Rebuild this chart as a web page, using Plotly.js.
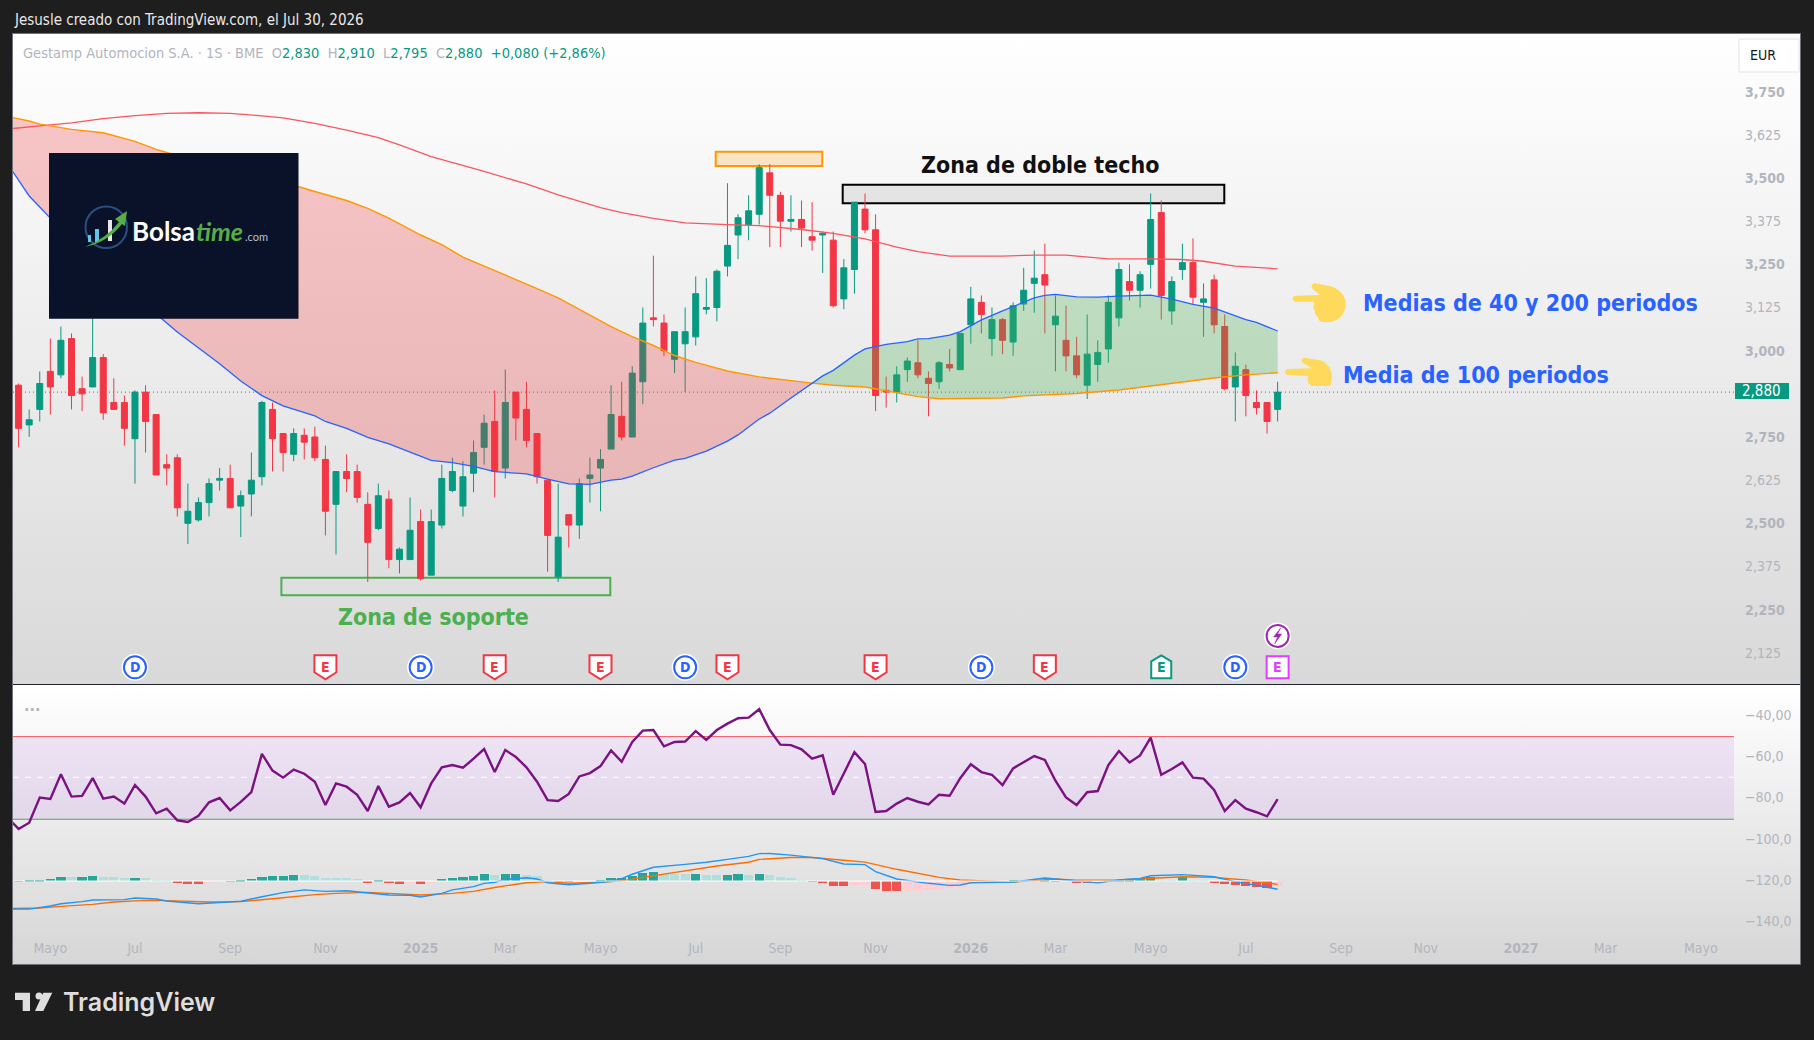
<!DOCTYPE html>
<html lang="es">
<head>
<meta charset="utf-8">
<title>Gestamp Automocion S.A.</title>
<script src="https://cdn.plot.ly/plotly-3.0.1.min.js"></script>
<style>
html,body{margin:0;padding:0;background:#1e1e1e;width:1814px;height:1040px;overflow:hidden}
#frame{position:absolute;left:13px;top:34px;width:1787px;height:930px;outline:1px solid #6f7278}
#upper{position:absolute;left:0;top:0;width:100%;height:650px;background:linear-gradient(#ffffff,#d9d9d9)}
#rule{position:absolute;left:0;top:650px;width:100%;height:1px;background:#1f2430}
#lower{position:absolute;left:0;top:651px;width:100%;height:279px;background:linear-gradient(#ffffff,#d6d6d6)}
#chart{position:absolute;left:0;top:0;width:1814px;height:1040px}
</style>
</head>
<body>
<div id="frame"><div id="upper"></div><div id="rule"></div><div id="lower"></div></div>
<div id="chart"></div>
<script>
// ---- weekly candles (EUR), oldest first, week of 2024-04-15 onward ----
const opens  = [2.90,2.785,2.83,2.94,2.93,3.035,2.89,2.895,2.98,2.85,2.85,2.745,2.88,2.815,2.67,2.69,2.50,2.51,2.56,2.625,2.63,2.55,2.585,2.635,2.83,2.76,2.70,2.755,2.75,2.685,2.555,2.65,2.65,2.555,2.485,2.57,2.395,2.395,2.505,2.35,2.495,2.595,2.55,2.645,2.72,2.795,2.66,2.88,2.83,2.76,2.625,2.345,2.525,2.495,2.63,2.66,2.715,2.81,2.75,2.91,3.095,3.08,2.975,3.02,3.04,3.12,3.125,3.245,3.335,3.365,3.395,3.515,3.45,3.375,3.38,3.33,3.335,3.32,3.15,3.235,3.41,3.35,2.885,2.88,2.945,2.965,2.92,2.91,2.96,2.945,3.075,3.14,3.035,3.09,3.025,3.135,3.195,3.22,3.075,3.03,2.985,2.90,2.96,3.005,3.095,3.20,3.175,3.25,3.40,3.115,3.235,3.255,3.14,3.205,3.07,2.895,2.945,2.85,2.85,2.83];
const highs  = [2.905,2.83,2.94,3.035,3.07,3.05,2.925,3.13,2.99,2.92,2.87,2.885,2.90,2.815,2.70,2.70,2.615,2.575,2.63,2.66,2.67,2.595,2.705,2.855,2.85,2.76,2.775,2.775,2.78,2.725,2.65,2.70,2.67,2.59,2.615,2.595,2.43,2.575,2.54,2.54,2.67,2.69,2.68,2.74,2.815,2.885,2.945,2.88,2.91,2.76,2.625,2.615,2.525,2.63,2.69,2.715,2.90,2.91,2.955,3.125,3.275,3.105,3.055,3.125,3.215,3.21,3.235,3.485,3.395,3.45,3.54,3.54,3.46,3.45,3.435,3.43,3.345,3.345,3.265,3.43,3.455,3.395,2.925,2.955,2.98,3.03,2.94,2.97,3.005,3.05,3.185,3.16,3.125,3.095,3.14,3.24,3.29,3.31,3.16,3.13,3.04,3.105,3.03,3.16,3.255,3.25,3.23,3.455,3.435,3.215,3.31,3.325,3.195,3.22,3.105,2.995,2.96,2.885,2.85,2.91];
const lows   = [2.72,2.75,2.795,2.815,2.92,2.83,2.825,2.895,2.80,2.83,2.725,2.615,2.705,2.64,2.61,2.52,2.44,2.505,2.52,2.595,2.545,2.46,2.52,2.61,2.65,2.65,2.68,2.685,2.68,2.465,2.41,2.59,2.56,2.33,2.48,2.37,2.355,2.395,2.335,2.35,2.485,2.59,2.52,2.59,2.67,2.575,2.63,2.74,2.72,2.615,2.36,2.33,2.43,2.455,2.56,2.535,2.715,2.74,2.75,2.845,3.07,2.985,2.935,2.88,3.015,3.105,3.085,3.215,3.265,3.32,3.365,3.30,3.30,3.345,3.30,3.29,3.225,3.125,3.12,3.165,3.34,2.825,2.835,2.85,2.91,2.92,2.81,2.89,2.94,2.945,3.02,3.05,2.985,2.99,2.985,3.115,3.11,3.05,2.94,2.94,2.92,2.86,2.91,2.965,3.07,3.145,3.125,3.18,3.09,3.075,3.205,3.135,3.04,3.05,2.885,2.795,2.81,2.815,2.76,2.795];
const closes = [2.775,2.80,2.905,2.895,3.03,2.87,2.875,2.98,2.82,2.83,2.775,2.88,2.795,2.64,2.66,2.545,2.535,2.56,2.615,2.63,2.545,2.58,2.625,2.85,2.745,2.705,2.76,2.735,2.69,2.535,2.65,2.63,2.575,2.445,2.58,2.395,2.425,2.48,2.34,2.505,2.63,2.65,2.635,2.705,2.79,2.65,2.85,2.805,2.74,2.635,2.465,2.46,2.495,2.615,2.64,2.685,2.815,2.75,2.935,3.08,3.09,3.00,3.055,3.055,3.165,3.125,3.23,3.305,3.385,3.405,3.53,3.45,3.375,3.38,3.355,3.32,3.34,3.13,3.24,3.43,3.35,2.87,2.88,2.93,2.97,2.93,2.905,2.965,2.95,3.05,3.15,3.105,3.09,3.03,3.13,3.175,3.21,3.19,3.10,2.985,2.93,2.99,2.995,3.14,3.235,3.175,3.22,3.38,3.16,3.20,3.255,3.155,3.15,3.075,2.89,2.955,2.87,2.835,2.795,2.88];

// ---- moving averages: week number (0 = first candle) and value ----
const ma40Weeks  = [-1,1,2,3,6,10,13,15,19,21,23,25,28,29,31,33,35,39,41,43,45,48,50,52,54,56,57,58,60,62,63,65,67,68,70,71,73,75,76,77,79,80,82,84,85,86,88,89,91,93,95,96,97,98,100,102,104,107,109,111,113,116,117,119];
const ma40Values = [3.539,3.448,3.416,3.384,3.297,3.190,3.106,3.054,2.962,2.912,2.870,2.840,2.811,2.795,2.775,2.749,2.730,2.682,2.676,2.665,2.650,2.643,2.628,2.614,2.613,2.625,2.628,2.637,2.661,2.683,2.688,2.709,2.738,2.756,2.802,2.819,2.863,2.906,2.927,2.943,2.987,3.005,3.018,3.026,3.034,3.035,3.045,3.055,3.089,3.115,3.141,3.153,3.160,3.163,3.156,3.155,3.158,3.161,3.149,3.134,3.123,3.090,3.082,3.057];
const ma100Weeks  = [-1,1,2,5,8,11,13,14,20,26,28,31,33,35,38,40,42,44,46,49,51,54,56,58,60,62,64,67,70,75,77,80,83,85,87,89,93,95,100,104,109,113,116,119];
const ma100Values = [3.678,3.665,3.656,3.641,3.631,3.606,3.583,3.574,3.523,3.479,3.461,3.435,3.412,3.384,3.335,3.307,3.271,3.245,3.221,3.180,3.153,3.103,3.070,3.041,3.015,2.986,2.966,2.941,2.924,2.906,2.900,2.895,2.879,2.867,2.861,2.861,2.863,2.869,2.876,2.886,2.905,2.921,2.930,2.936];
const ma200Weeks  = [-1,1,2,5,8,11,14,17,20,23,25,28,31,34,36,39,42,44,48,51,55,57,60,63,67,70,74,77,80,83,85,88,93,96,99,103,107,110,112,115,119];
const ma200Values = [3.642,3.647,3.651,3.660,3.672,3.681,3.687,3.689,3.687,3.680,3.674,3.658,3.639,3.617,3.596,3.562,3.537,3.519,3.483,3.451,3.414,3.400,3.383,3.370,3.365,3.362,3.351,3.340,3.324,3.300,3.287,3.274,3.274,3.277,3.277,3.266,3.266,3.264,3.259,3.245,3.237];

// ---- lower pane ----
const oscValues = [-90.0,-95.3,-92.3,-80.1,-80.8,-68.8,-79.6,-79.3,-70.6,-80.6,-79.6,-83.0,-74.0,-79.6,-87.7,-85.5,-91.1,-91.9,-88.9,-82.4,-80.3,-86.3,-82.2,-77.4,-58.9,-67.0,-70.4,-66.5,-68.5,-72.4,-83.7,-73.2,-74.8,-78.7,-86.6,-74.5,-84.5,-82.4,-77.9,-84.8,-73.2,-65.4,-64.3,-65.6,-61.2,-56.5,-67.7,-57.0,-60.4,-65.4,-72.4,-81.3,-81.7,-78.3,-69.8,-68.2,-64.8,-57.2,-62.7,-53.1,-47.6,-47.3,-55.2,-53.1,-52.9,-47.8,-52.1,-47.3,-44.2,-41.6,-41.3,-37.2,-47.3,-54.4,-54.6,-56.7,-61.2,-59.6,-78.7,-68.6,-58.0,-63.8,-87.1,-86.6,-83.0,-80.3,-82.1,-83.4,-78.7,-79.2,-70.7,-63.9,-67.7,-69.0,-74.0,-65.9,-62.8,-59.9,-61.8,-71.9,-80.0,-83.7,-77.5,-76.9,-64.3,-57.5,-63.0,-59.6,-51.0,-69.0,-66.2,-63.0,-70.4,-70.9,-76.4,-86.6,-81.3,-85.5,-87.2,-89.2,-80.8];
const oscUpper = -50.5, oscMiddle = -70.2, oscLower = -90.6;
const macdWeeks  = [-1,1,3,4,6,7,10,11,13,14,17,19,21,23,25,27,29,31,33,35,37,38,40,41,43,44,45,46,48,49,50,52,54,56,57,58,59,60,63,65,67,69,70,71,73,76,78,80,81,83,86,88,89,90,94,97,100,102,104,106,107,110,113,115,118,119];
const macdValues = [-134.2,-134.2,-132.7,-131.6,-130.6,-129.8,-129.6,-128.8,-129.3,-130.3,-131.6,-130.9,-130.4,-128.2,-126.2,-124.9,-125.6,-125.3,-126.2,-127.4,-127.5,-128.3,-126.6,-124.9,-123.3,-121.7,-121.2,-119.8,-119.0,-119.6,-121.4,-122.4,-121.7,-120.7,-119.4,-117.3,-115.6,-113.9,-112.5,-111.5,-110.1,-108.6,-107.3,-107.2,-108.0,-109.7,-112.3,-112.6,-116.0,-119.6,-121.7,-122.7,-122.5,-121.4,-121.1,-119.1,-120.6,-121.5,-120.1,-119.3,-118.0,-117.5,-118.5,-120.9,-123.6,-124.6];
const signalWeeks  = [-1,2,4,7,9,12,14,18,21,23,25,28,30,33,35,38,41,43,45,48,50,52,55,57,59,63,66,69,70,73,75,78,80,83,87,89,94,98,100,104,107,110,113,116,119];
const signalValues = [-134.0,-133.7,-132.9,-131.9,-130.8,-130.0,-130.1,-130.8,-130.6,-129.8,-128.7,-127.2,-126.6,-126.1,-126.6,-127.4,-126.6,-125.6,-123.7,-121.4,-120.9,-121.7,-121.2,-120.5,-118.8,-115.6,-113.3,-111.5,-110.1,-109.2,-109.2,-110.5,-111.4,-114.9,-118.8,-120.1,-121.1,-119.6,-120.2,-120.1,-119.3,-118.5,-118.8,-120.1,-122.2];
const histValues = [-0.3,0.1,0.3,1.0,1.9,1.8,1.9,2.4,1.9,1.8,1.5,1.6,1.5,0.5,0.3,-0.6,-1.2,-1.3,-1.0,-0.3,-0.4,0.1,1.0,1.9,2.4,2.5,2.9,2.8,2.4,1.6,1.5,1.4,1.0,-0.5,0.1,-0.8,-1.2,-1.1,-1.3,-0.8,1.0,1.5,1.9,2.4,3.4,2.9,3.3,3.4,2.9,2.4,0.3,-0.3,-0.4,-0.3,-0.2,0.3,1.4,1.5,2.4,3.9,4.4,3.5,3.4,3.3,3.4,3.0,2.9,3.0,3.4,2.9,3.4,2.9,1.9,1.5,0.1,-0.3,-1.0,-2.3,-2.4,-1.9,-1.8,-3.9,-4.8,-4.9,-4.8,-4.7,-4.4,-3.9,-3.4,-2.8,-0.5,-0.2,-0.1,-0.05,0.2,0.15,0.1,0.2,-0.2,-0.1,-0.5,-0.6,-0.4,0.1,0.3,0.5,1.0,1.9,0.5,0.4,1.9,0.5,0.3,-0.5,-1.3,-1.8,-2.3,-2.8,-3.4,-2.4];
const histZero = -120.6;

// ---- events on the chart: week numbers ----
const dividendWeeks = [11,38,63,91,115];
const missEarningsWeeks = [29,45,55,67,81,97];
const beatEarningsWeek = 108;
const nextEarningsWeek = 119;
const eventRowPrice = 2.083, newsRowPrice = 2.174;

// ---- axis labels ----
const priceTickVals = [3.75,3.625,3.5,3.375,3.25,3.125,3.0,2.75,2.625,2.5,2.375,2.25,2.125];
const priceTickText = ['<b>3,750</b>','3,625','<b>3,500</b>','3,375','<b>3,250</b>','3,125','<b>3,000</b>','<b>2,750</b>','2,625','<b>2,500</b>','2,375','<b>2,250</b>','2,125'];
const oscTickVals = [-40,-60,-80,-100,-120,-140];
const oscTickText = ['−40,00','−60,0','−80,0','−100,0','−120,0','−140,0'];
const timeTickVals = ['2024-05-06','2024-07-01','2024-09-02','2024-11-04','2025-01-06','2025-03-03','2025-05-05','2025-07-07','2025-09-01','2025-11-03','2026-01-05','2026-03-02','2026-05-04','2026-07-06','2026-09-07','2026-11-02','2027-01-04','2027-03-01','2027-05-03'];
const timeTickText = ['Mayo','Jul','Sep','Nov','<b>2025</b>','Mar','Mayo','Jul','Sep','Nov','<b>2026</b>','Mar','Mayo','Jul','Sep','Nov','<b>2027</b>','Mar','Mayo'];

const FONT = '"DejaVu Sans Condensed", "DejaVu Sans", sans-serif';
const GREEN = '#089981', RED = '#f23645', GREY = '#b2b5be';
const WEEK = 7*864e5, T0 = Date.UTC(2024,3,15);
const dateOf = i => new Date(T0 + i*WEEK).toISOString().slice(0,10);
const candleDates = opens.map((_,i)=>dateOf(i));

// page pixels -> paper fractions
const L = 13, R = 1734, T = 34, B = 934;
const pX = x => (x-L)/(R-L), pY = y => (B-y)/(B-T);
const pxPath = s => { let k=0; return s.replace(/-?\d+(\.\d+)?/g, n => (k++%2===0 ? pX(+n) : pY(+n)).toFixed(6)); };
const pxRange = x => T0 + (x-18.6)/10.58*WEEK;

const polygon = (wa,va,wb,vb,test) => {
  const a = wa.map((w,i)=>[w,va[i]]).filter(p=>test(p[0]));
  const b = wb.map((w,i)=>[w,vb[i]]).filter(p=>test(p[0])).reverse();
  const all = a.concat(b);
  return {x:all.map(p=>dateOf(p[0])), y:all.map(p=>p[1])};
};
const CROSS = 75;
const redZone = polygon(ma100Weeks,ma100Values,ma40Weeks,ma40Values,w=>w<=CROSS);
const greenZone = polygon(ma100Weeks,ma100Values,ma40Weeks,ma40Values,w=>w>=CROSS);

const histColors = histValues.map((v,i)=>{
  const prev = i?histValues[i-1]:0;
  return v>=0 ? (v>=prev?'#26a69a':'#b2dfdb') : (v<prev?'#ef5350':'#ffcdd2');
});

const traces = [
  {type:'bar',x:candleDates,y:histValues,base:histValues.map(()=>histZero),width:histValues.map(()=>WEEK*0.87),marker:{color:histColors,line:{width:0}},yaxis:'y2',hoverinfo:'skip'},
  {type:'candlestick',x:candleDates,open:opens,high:highs,low:lows,close:closes,yaxis:'y',
   increasing:{line:{color:GREEN,width:1},fillcolor:GREEN},decreasing:{line:{color:RED,width:1},fillcolor:RED},whiskerwidth:0,hoverinfo:'skip'},
  {type:'scatter',mode:'lines',x:redZone.x,y:redZone.y,fill:'toself',fillcolor:'rgba(242,54,54,0.27)',line:{width:0},hoverinfo:'skip'},
  {type:'scatter',mode:'lines',x:greenZone.x,y:greenZone.y,fill:'toself',fillcolor:'rgba(76,175,80,0.30)',line:{width:0},hoverinfo:'skip'},
  {type:'scatter',mode:'lines',x:ma200Weeks.map(dateOf),y:ma200Values,line:{color:'#fb5560',width:1.3},hoverinfo:'skip'},
  {type:'scatter',mode:'lines',x:ma100Weeks.map(dateOf),y:ma100Values,line:{color:'#ff9800',width:1.4},hoverinfo:'skip'},
  {type:'scatter',mode:'lines',x:ma40Weeks.map(dateOf),y:ma40Values,line:{color:'#2962ff',width:1.3},hoverinfo:'skip'},
  {type:'scatter',mode:'lines',x:oscValues.map((_,i)=>dateOf(i-1)),y:oscValues,yaxis:'y2',line:{color:'#7b1282',width:2.4},hoverinfo:'skip'},
  {type:'scatter',mode:'lines',x:signalWeeks.map(dateOf),y:signalValues,yaxis:'y2',line:{color:'#ff6d00',width:1.4},hoverinfo:'skip'},
  {type:'scatter',mode:'lines',x:macdWeeks.map(dateOf),y:macdValues,yaxis:'y2',line:{color:'#2196f3',width:1.4},hoverinfo:'skip'},
  {type:'scatter',mode:'markers',x:dividendWeeks.concat([nextEarningsWeek]).map(dateOf),y:dividendWeeks.map(()=>eventRowPrice).concat([newsRowPrice]),marker:{symbol:'circle',size:27,color:'#ffffff',line:{width:0}},hoverinfo:'skip'},
  {type:'scatter',mode:'markers',x:dividendWeeks.map(dateOf),y:dividendWeeks.map(()=>eventRowPrice),marker:{symbol:'circle',size:22,color:'#ffffff',line:{color:'#2962ff',width:2}},hoverinfo:'skip'},
  {type:'scatter',mode:'markers',x:[dateOf(nextEarningsWeek)],y:[newsRowPrice],marker:{symbol:'circle',size:22,color:'#ffffff',line:{color:'#9c27b0',width:2}},hoverinfo:'skip'}
];

const shieldDown = 'M -11 12 L 11 12 L 11 -5 L 0 -12 L -11 -5 Z';
const shieldUp = 'M 0 12 L 10 6 L 10 -11 L -10 -11 L -10 6 Z';
const squareIcon = 'M -11 11 L 11 11 L 11 -11 L -11 -11 Z';
const boltIcon = 'M 3 8 L -4 -1 L 0 -1 L -3 -8 L 4 2 L 0 2 Z';
const anchored = (path,week,price,stroke,fill,w) => ({type:'path',path,xsizemode:'pixel',ysizemode:'pixel',xref:'x',yref:'y',xanchor:dateOf(week),yanchor:price,line:{color:stroke,width:w},fillcolor:fill,layer:'above'});
const boxPx = (x0,y0,x1,y1,stroke,fill,w,layer) => ({type:'rect',xref:'paper',yref:'paper',x0:pX(x0),x1:pX(x1),y0:pY(y1),y1:pY(y0),line:{color:stroke,width:w},fillcolor:fill,layer:layer||'above'});
const pathPx = (s,fill,stroke,w) => ({type:'path',xref:'paper',yref:'paper',path:pxPath(s),fillcolor:fill,line:{color:stroke||'rgba(0,0,0,0)',width:w||0},layer:'above'});

const shapes = [
  // oscillator band
  {type:'rect',xref:'paper',yref:'y2',x0:0,x1:1,y0:oscLower,y1:oscUpper,fillcolor:'rgba(160,50,220,0.10)',line:{width:0},layer:'below'},
  {type:'line',xref:'paper',yref:'y2',x0:0,x1:1,y0:oscUpper,y1:oscUpper,line:{color:'#f2525e',width:1},layer:'below'},
  {type:'line',xref:'paper',yref:'y2',x0:0,x1:1,y0:oscLower,y1:oscLower,line:{color:'#5c9e62',width:1},layer:'below'},
  {type:'line',xref:'paper',yref:'y2',x0:0,x1:1,y0:oscMiddle,y1:oscMiddle,line:{color:'#ffffff',width:1,dash:'6px,6px'},layer:'below'},
  {type:'line',xref:'x',yref:'y2',x0:dateOf(-2),x1:dateOf(119),y0:histZero,y1:histZero,line:{color:'#ffffff',width:1},layer:'above'},
  // last price line
  {type:'line',xref:'paper',yref:'y',x0:0,x1:1,y0:closes[119],y1:closes[119],line:{color:GREEN,width:1,dash:'1px,3px'},layer:'below'},
  // zone boxes
  boxPx(715.7,151.7,822.3,166,'#ff9800','rgba(255,152,0,0.2)',2,'below'),
  boxPx(842.7,184.7,1224.3,203.3,'#000000','rgba(0,0,0,0.07)',2,'below'),
  boxPx(281.4,577.7,610.3,595.3,'#4caf50','rgba(255,255,255,0)',2,'below'),
  // event badges
  ...missEarningsWeeks.map(w=>anchored(shieldDown,w,eventRowPrice,RED,'#ffffff',2)),
  anchored(shieldUp,beatEarningsWeek,eventRowPrice,GREEN,'#ffffff',2),
  anchored(squareIcon,nextEarningsWeek,eventRowPrice,'#e040fb','#ffffff',2),
  anchored(boltIcon,nextEarningsWeek,newsRowPrice,'#9c27b0','#9c27b0',0.5),
  // hands
  pathPx('M1295.3 295.7 L1320 295 L1312.7 289 Q1310 285 1314.3 283 L1330 286 C1340 289 1346 296 1345.7 304.3 C1345.7 315 1337 322.3 1326.7 322.3 L1322 322 Q1318 321 1318 317 Q1314 314 1315 311 Q1312 308 1314 304 L1314 301.7 L1295.3 301.7 Q1292.7 301 1292.7 298.7 Q1292.7 296 1295.3 295.7 Z','#ffd95c'),
  pathPx('M1287.3 369 L1311.7 368.3 L1302 362.3 Q1300.5 359 1304 357.7 L1319 360 C1327 362 1332 369 1332 376.7 Q1332 382 1330 386 L1311.7 386 Q1306 383 1308.3 376 L1287.3 375 Q1285 374 1285 372 Q1285 369.5 1287.3 369 Z','#ffd95c'),
  // logo panel
  boxPx(49,153,298.5,318.7,'#0a1229','#0a1229',0),
  {type:'circle',xref:'paper',yref:'paper',x0:pX(85.5),x1:pX(127),y0:pY(248),y1:pY(206.5),line:{color:'#2a4f80',width:2},fillcolor:'rgba(0,0,0,0)',layer:'above'},
  boxPx(88,235,91,242,'#5fc4e8','#5fc4e8',0),
  boxPx(95,229,99,242,'#5fc4e8','#5fc4e8',0),
  boxPx(108,220,112,241,'#e8e8e8','#e8e8e8',0),
  pathPx('M85 247 Q107 238 119 222 L115 219 L127 211 L125 226 L122 224 Q108 242 85 247 Z','#58ad46'),
  // brand mark
  pathPx('M15 992.7 L30 992.7 L30 1011 L22.7 1011 L22.7 1000 L15 1000 Z','#dedede'),
  {type:'circle',xref:'paper',yref:'paper',x0:pX(35.5),x1:pX(42.5),y0:pY(999.5),y1:pY(992.5),line:{width:0},fillcolor:'#dedede',layer:'above'},
  pathPx('M43.3 992.7 L52.3 992.7 L43.3 1011 L35 1011 Z','#dedede'),
  // value flag and currency box
  boxPx(1735,383,1789,399,GREEN,GREEN,0),
  boxPx(1739,39,1799,72,'#e0e3eb','#ffffff',1)
];

const note = (x,y,text,size,color,anchor,extra) => Object.assign({xref:'paper',yref:'paper',x:pX(x),y:pY(y),text,showarrow:false,xanchor:anchor||'left',yanchor:'middle',font:{family:FONT,size,color},align:'left'},extra||{});
const badgeText = (w,price,t,color) => ({xref:'x',yref:'y',x:dateOf(w),y:price,text:'<b>'+t+'</b>',showarrow:false,font:{family:FONT,size:14,color},xanchor:'center',yanchor:'middle'});
const g = s => '<span style="color:'+GREEN+'">'+s+'</span>';

const annotations = [
  note(12,20,'Jesusle creado con TradingView.com, el Jul 30, 2026',15,'#e8e8e8'),
  note(21,53,'Gestamp Automocion S.A. · 1S · BME\u00a0\u00a0O'+g('2,830')+'\u00a0\u00a0H'+g('2,910')+'\u00a0\u00a0L'+g('2,795')+'\u00a0\u00a0C'+g('2,880')+'\u00a0\u00a0'+g('+0,080 (+2,86%)'),14.5,GREY),
  note(1763,55,'EUR',14,'#131722','center'),
  note(1762,391,'2,880',15,'#ffffff','center'),
  note(1040,165,'<b>Zona de doble techo</b>',23,'#111111','center'),
  note(433,617,'<b>Zona de soporte</b>',23,'#4caf50','center'),
  note(1361,303,'<b>Medias de 40 y 200 periodos</b>',23,'#2962ff'),
  note(1340.5,375,'<b>Media de 100 periodos</b>',23,'#2962ff'),
  note(22,709,'<b>···</b>',16,GREY),
  note(130,231,'<b>Bolsa</b>',26,'#ffffff',null,{font:{family:'Lato, sans-serif',size:26,color:'#ffffff'}}),
  note(194,231,'<i><b>time</b></i>',25,'#58ad46',null,{font:{family:'Lato, sans-serif',size:25,color:'#58ad46'}}),
  note(243,236,'.com',11,'#b9c0c8',null,{font:{family:'Lato, sans-serif',size:11,color:'#b9c0c8'}}),
  note(61,1002,'TradingView',25,'#dedede',null,{font:{family:'Inter, sans-serif',size:25,color:'#dedede',weight:600}}),
  ...dividendWeeks.map(w=>badgeText(w,eventRowPrice,'D','#2962ff')),
  ...missEarningsWeeks.map(w=>badgeText(w,eventRowPrice,'E',RED)),
  badgeText(beatEarningsWeek,eventRowPrice,'E',GREEN),
  badgeText(nextEarningsWeek,eventRowPrice,'E','#e040fb')
];

const axisFont = {family:FONT,size:14,color:GREY};
const layout = {
  width:1814,height:1040,
  margin:{l:L,r:1814-R,t:T,b:1040-B,pad:0},
  paper_bgcolor:'rgba(0,0,0,0)',plot_bgcolor:'rgba(0,0,0,0)',
  showlegend:false,dragmode:false,
  boxgap:0.2,boxgroupgap:0.29,bargap:0,barmode:'overlay',
  font:{family:FONT},
  xaxis:{type:'date',anchor:'y2',range:[pxRange(L),pxRange(R)],tickmode:'array',tickvals:timeTickVals,ticktext:timeTickText,tickfont:axisFont,showgrid:false,zeroline:false,showline:false,ticks:'',ticklabelstandoff:4,rangeslider:{visible:false},fixedrange:true},
  yaxis:{domain:[(B-684)/(B-T),1],range:[2.0347,3.9171],side:'right',anchor:'x',tickmode:'array',tickvals:priceTickVals,ticktext:priceTickText,tickfont:axisFont,showgrid:false,zeroline:false,showline:false,ticks:'',ticklabelstandoff:10,fixedrange:true},
  yaxis2:{domain:[0,(B-685)/(B-T)],range:[-146.3,-25.44],side:'right',anchor:'x',tickmode:'array',tickvals:oscTickVals,ticktext:oscTickText,tickfont:axisFont,showgrid:false,zeroline:false,showline:false,ticks:'',ticklabelstandoff:10,fixedrange:true},
  shapes,annotations
};
Plotly.newPlot('chart',traces,layout,{displayModeBar:false,responsive:false});
</script>
</body>
</html>
